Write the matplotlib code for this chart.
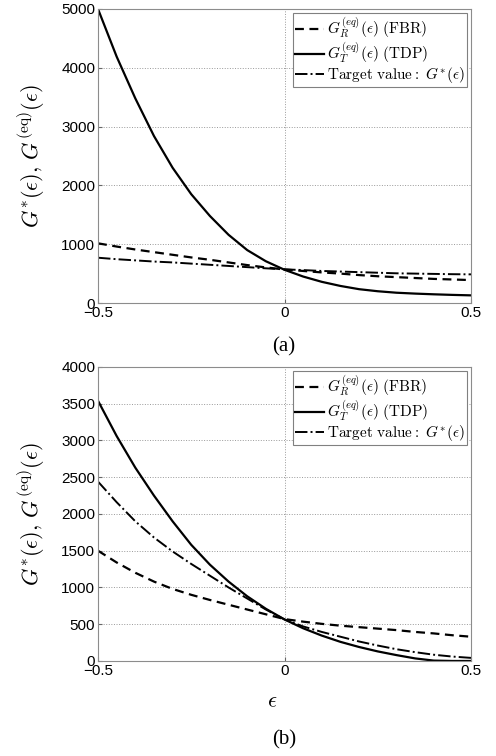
import numpy as np
import matplotlib
matplotlib.use("Agg")
import matplotlib.pyplot as plt

# epsilon grid (0.05 steps)
eps = [-0.5, -0.45, -0.4, -0.35, -0.3, -0.25, -0.2, -0.15, -0.1, -0.05, 0.0,
       0.05, 0.1, 0.15, 0.2, 0.25, 0.3, 0.35, 0.4, 0.45, 0.5]

# (a)
fbr_a = [1015, 960, 910, 865, 820, 775, 735, 690, 645, 605, 570,
         545, 520, 500, 475, 455, 440, 425, 410, 400, 390]
tdp_a = [5000, 4190, 3480, 2840, 2300, 1850, 1480, 1160, 900, 710, 565,
         450, 360, 290, 235, 200, 175, 160, 148, 138, 130]
target_a = [770, 745, 725, 705, 690, 670, 650, 630, 610, 590, 572,
            560, 545, 535, 525, 515, 505, 500, 495, 490, 487]

# (b)
fbr_b = [1500, 1340, 1200, 1080, 980, 900, 830, 765, 700, 635, 570,
         535, 505, 480, 460, 440, 420, 395, 375, 350, 330]
tdp_b = [3540, 3060, 2630, 2250, 1900, 1580, 1310, 1080, 880, 710, 565,
         445, 345, 260, 190, 130, 80, 35, 5, 0, 0]
target_b = [2440, 2160, 1900, 1680, 1490, 1320, 1160, 1000, 850, 700, 565,
            470, 395, 330, 265, 210, 160, 120, 85, 60, 42]

yticks_a = [0, 1000, 2000, 3000, 4000, 5000]
yticks_b = [0, 500, 1000, 1500, 2000, 2500, 3000, 3500, 4000]
xticks = [-0.5, 0, 0.5]

plt.rcParams["mathtext.fontset"] = "cm"
plt.rcParams["font.family"] = ["Liberation Sans", "DejaVu Sans"]

labels = [r"$G_R^{(eq)}(\epsilon)\ \mathrm{(FBR)}$",
          r"$G_T^{(eq)}(\epsilon)\ \mathrm{(TDP)}$",
          r"$\mathrm{Target\ value{:}}\ G^{*}(\epsilon)$"]


def draw_panel(ax, fbr, tdp, target, yticks):
    ax.plot(eps, fbr, "k--", lw=1.6, dashes=(4, 2.5), label=labels[0])
    ax.plot(eps, tdp, "k-", lw=1.6, label=labels[1])
    ax.plot(eps, target, "k-.", lw=1.4, label=labels[2])
    ax.set_xlim(-0.5, 0.5)
    ax.set_ylim(yticks[0], yticks[-1])
    ax.set_xticks(xticks)
    ax.set_xticklabels(["\u22120.5", "0", "0.5"])
    ax.set_yticks(yticks)
    ax.tick_params(direction="in", labelsize=11, pad=2, length=3, color="0.4")
    ax.grid(True, linestyle=":", color="0.6", lw=0.7)
    for s in ax.spines.values():
        s.set_color("0.55")
        s.set_linewidth(0.8)
    ax.set_ylabel(r"$G^{*}(\epsilon),\,G^{(\mathrm{eq})}(\epsilon)$", fontsize=16, labelpad=10)
    leg = ax.legend(loc="upper right", fontsize=11, handlelength=1.9,
                    handletextpad=0.2, labelspacing=0.0, borderpad=0.15,
                    borderaxespad=0.25, fancybox=False, framealpha=1)
    leg.get_frame().set_edgecolor("0.5")
    leg.get_frame().set_linewidth(0.8)


fig = plt.figure(figsize=(4.96, 7.56), dpi=100)
ax1 = fig.add_axes([0.1976, 0.5992, 0.752, 0.3889])
ax2 = fig.add_axes([0.1976, 0.1257, 0.752, 0.3889])

draw_panel(ax1, fbr_a, tdp_a, target_a, yticks_a)
draw_panel(ax2, fbr_b, tdp_b, target_b, yticks_b)

fig.text(272 / 496, 1 - 702 / 756, r"$\epsilon$", fontsize=16, ha="center", va="center")
fig.text(284 / 496, 1 - 347 / 756, "(a)", fontsize=15, ha="center", va="center",
         family="Liberation Serif")
fig.text(284 / 496, 1 - 740 / 756, "(b)", fontsize=15, ha="center", va="center",
         family="Liberation Serif")

fig.savefig("out.png", dpi=100)
